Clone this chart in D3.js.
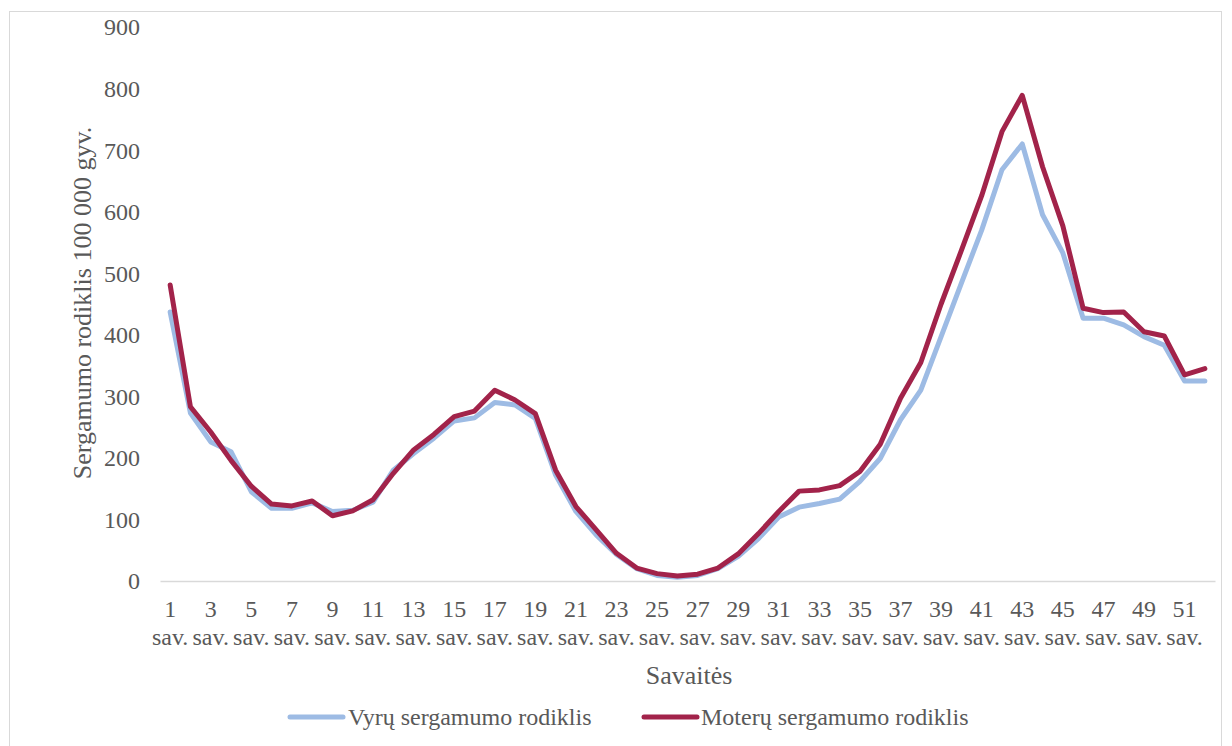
<!DOCTYPE html>
<html>
<head>
<meta charset="utf-8">
<script src="https://cdn.jsdelivr.net/npm/d3@7"></script>
<style>
  html, body { margin: 0; padding: 0; background: #ffffff; }
  svg { display: block; }
  text { font-family: "Liberation Serif", "Times New Roman", serif; fill: #595959; }
</style>
</head>
<body>
<svg id="chart" width="1232" height="746"></svg>
<script>
// Weekly morbidity rate per 100 000 population
const weeks = d3.range(1, 53);
const weekLabels = weeks.map(w => w + " sav.");
const yTicks = [0, 100, 200, 300, 400, 500, 600, 700, 800, 900];

const menRate = [
  437, 273, 226, 210, 145, 118, 118, 127, 113, 115,
  128, 180, 207, 232, 260, 265, 290, 286, 264, 172,
  113, 75, 43, 20, 9, 6, 9, 20, 40, 69,
  104, 120, 126, 133, 162, 199, 262, 310, 397, 484,
  570, 668, 710, 595, 533, 427, 427, 416, 397, 383,
  325, 325
];
const womenRate = [
  481, 283, 242, 196, 154, 125, 122, 130, 106, 114,
  132, 175, 213, 238, 267, 276, 310, 294, 272, 180,
  121, 83, 45, 21, 12, 8, 11, 21, 44, 77,
  113, 146, 148, 155, 178, 222, 297, 355, 450, 537,
  626, 730, 789, 673, 577, 443, 436, 437, 405, 398,
  335, 345
];

const seriesNames = ["Vyrų sergamumo rodiklis", "Moterų sergamumo rodiklis"];
const seriesColors = ["#9dbbe4", "#a2234a"];
const xTitle = "Savaitės";
const yTitle = "Sergamumo rodiklis 100 000 gyv.";

const svg = d3.select("#chart");

// outer chart frame
svg.append("rect")
  .attr("x", 9.5).attr("y", 11.5)
  .attr("width", 1212).attr("height", 742)
  .attr("fill", "none").attr("stroke", "#d9d9d9").attr("stroke-width", 1);

const x = d3.scaleBand().domain(weekLabels).range([160, 1215]);
const y = d3.scaleLinear().domain([0, 900]).range([581, 27]);
const cx = i => x(weekLabels[i]) + x.bandwidth() / 2;

// Y axis (labels only)
const yAxis = svg.append("g")
  .attr("transform", "translate(140,0)")
  .call(d3.axisLeft(y).tickValues(yTicks).tickSize(0).tickPadding(0).tickFormat(d3.format("d")));
yAxis.select(".domain").remove();
yAxis.selectAll("text")
  .attr("font-size", 24)
  .attr("font-family", "Liberation Serif, serif")
  .attr("fill", "#595959")
  .attr("dy", "0.33em");

// X axis
const xAxis = svg.append("g")
  .attr("transform", "translate(0,581)")
  .call(d3.axisBottom(x).tickSize(0).tickFormat(""));
xAxis.select(".domain").attr("stroke", "#d9d9d9").attr("stroke-width", 1.5);
xAxis.selectAll(".tick").each(function(d, i) {
  if (i % 2 !== 0) return;
  const parts = d.split(" ");
  const t = d3.select(this).append("text")
    .attr("text-anchor", "middle")
    .attr("font-size", 24)
    .attr("font-family", "Liberation Serif, serif")
    .attr("fill", "#595959");
  t.append("tspan").attr("x", 0).attr("y", 36).text(parts[0]);
  t.append("tspan").attr("x", 0).attr("y", 64).text(parts[1]);
});

// axis titles
svg.append("text")
  .attr("x", 689).attr("y", 684)
  .attr("text-anchor", "middle")
  .attr("font-size", 26)
  .text(xTitle);
svg.append("text")
  .attr("transform", "translate(91,303) rotate(-90)")
  .attr("text-anchor", "middle")
  .attr("font-size", 26)
  .text(yTitle);

// series lines
const line = d3.line()
  .x((d, i) => cx(i))
  .y(d => y(d));

[menRate, womenRate].forEach((data, k) => {
  svg.append("path")
    .datum(data)
    .attr("d", line)
    .attr("fill", "none")
    .attr("stroke", seriesColors[k])
    .attr("stroke-width", 5)
    .attr("stroke-linejoin", "round")
    .attr("stroke-linecap", "round");
});

// legend
const legendItems = [
  { x0: 290, x1: 343, tx: 348 },
  { x0: 644, x1: 697, tx: 701 }
];
legendItems.forEach((p, k) => {
  svg.append("line")
    .attr("x1", p.x0).attr("x2", p.x1)
    .attr("y1", 717).attr("y2", 717)
    .attr("stroke", seriesColors[k])
    .attr("stroke-width", 5)
    .attr("stroke-linecap", "round");
  svg.append("text")
    .attr("x", p.tx).attr("y", 725)
    .attr("font-size", 24)
    .text(seriesNames[k]);
});
</script>
</body>
</html>
